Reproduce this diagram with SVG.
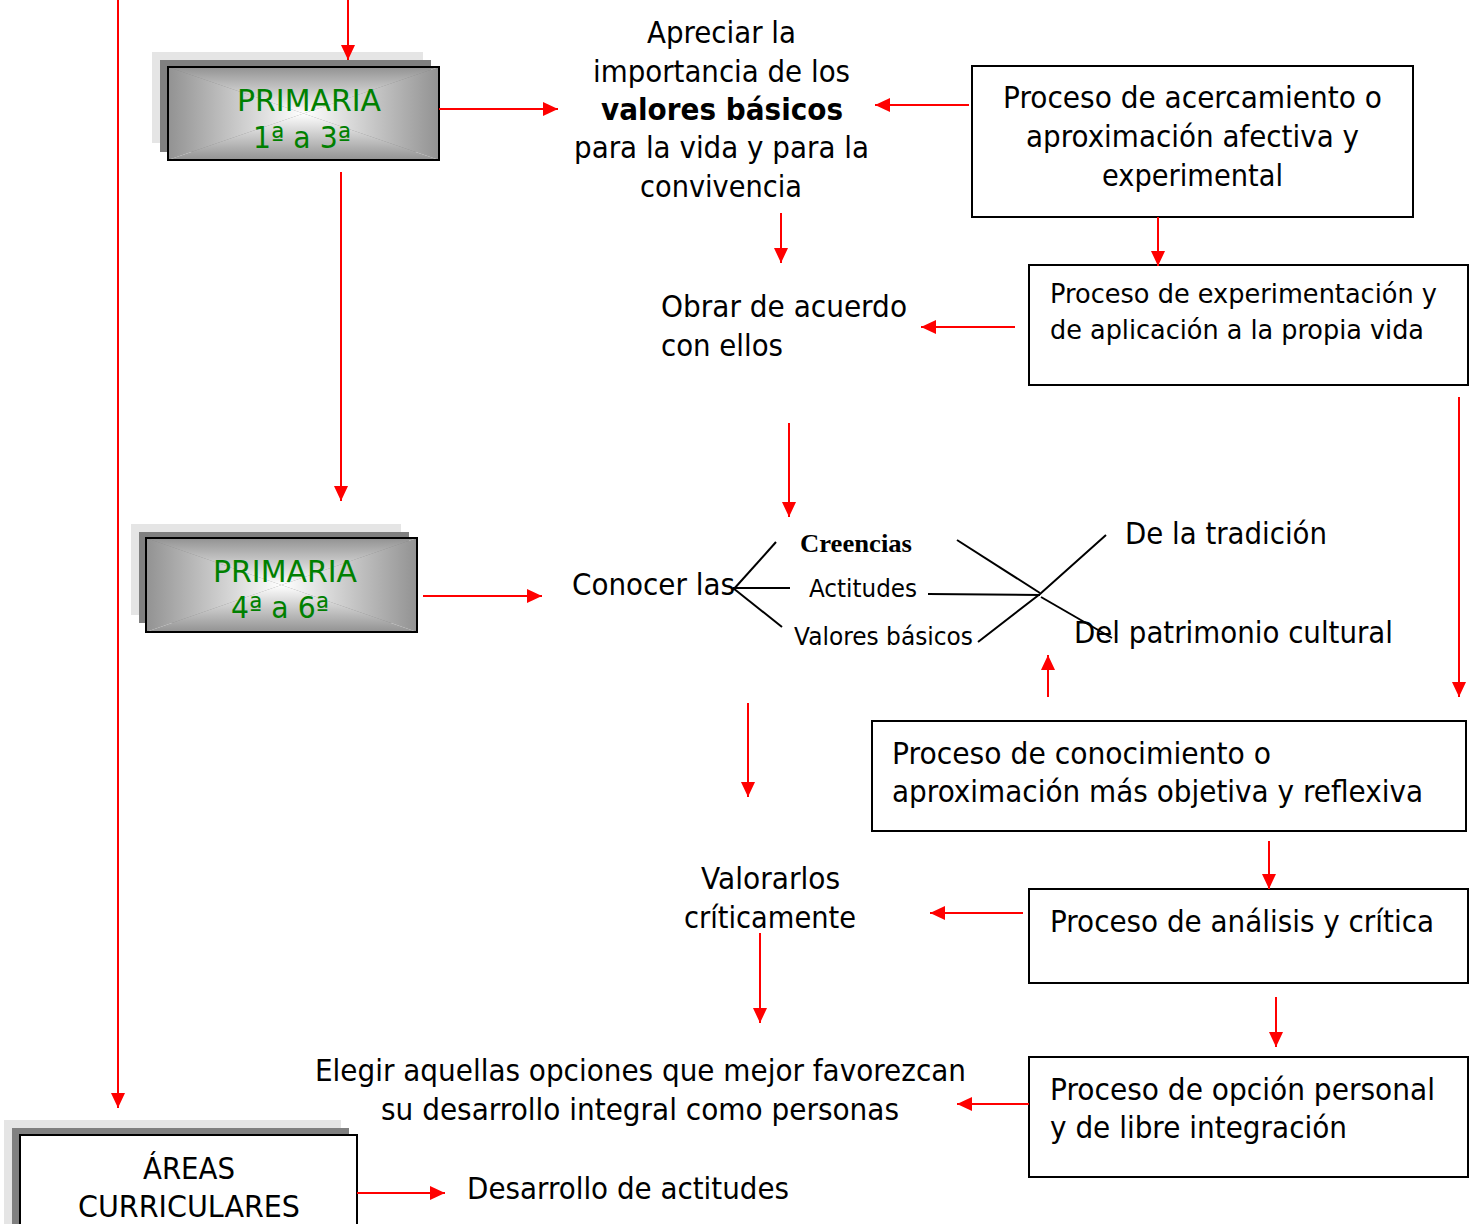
<svg xmlns="http://www.w3.org/2000/svg" width="1469" height="1224" viewBox="0 0 1469 1224">
<style>
text{font-family:"DejaVu Sans","Liberation Sans",sans-serif;font-size:30px;fill:#000}
.sm{font-size:27px}
.xs{font-size:24px}
.grn{fill:#008000}
.bold{font-weight:bold}
.serif{font-family:"Liberation Serif","DejaVu Serif",serif;font-weight:bold;font-size:25px}
.box{fill:#fff;stroke:#000;stroke-width:2}
.sh1{fill:#e5e5e5}
.sh2{fill:#808080}
.frame{fill:none;stroke:#000;stroke-width:2}
.arr{stroke:#f00;stroke-width:2;fill:none;marker-end:url(#ah)}
.br{stroke:#000;stroke-width:2;fill:none}
</style>
<defs>
<marker id="ah" markerUnits="userSpaceOnUse" markerWidth="16" markerHeight="14" refX="15" refY="7" orient="auto" viewBox="0 0 16 14">
<path d="M0,0 L15,7 L0,14 z" fill="#f00"/>
</marker>
<linearGradient id="gT" x1="0" y1="0" x2="0" y2="1"><stop offset="0" stop-color="#929292"/><stop offset="1" stop-color="#fff"/></linearGradient>
<linearGradient id="gB" x1="0" y1="0" x2="0" y2="1"><stop offset="0" stop-color="#fff"/><stop offset="1" stop-color="#929292"/></linearGradient>
<linearGradient id="gL" x1="0" y1="0" x2="1" y2="0"><stop offset="0" stop-color="#929292"/><stop offset="1" stop-color="#fff"/></linearGradient>
<linearGradient id="gR" x1="0" y1="0" x2="1" y2="0"><stop offset="0" stop-color="#fff"/><stop offset="1" stop-color="#929292"/></linearGradient>
</defs>

<g id="primaria13">
<rect class="sh1" x="152" y="52" width="271" height="91"/>
<rect class="sh2" x="160" y="60" width="271" height="92"/>
<polygon fill="url(#gT)" points="168,67 439,67 303.5,113.5"/>
<polygon fill="url(#gB)" points="168,160 439,160 303.5,113.5"/>
<polygon fill="url(#gL)" points="168,67 168,160 303.5,113.5"/>
<polygon fill="url(#gR)" points="439,67 439,160 303.5,113.5"/>
<rect class="frame" x="168" y="67" width="271" height="93"/>
<text class="grn" x="237" y="111" textLength="144" lengthAdjust="spacingAndGlyphs">PRIMARIA</text>
<text class="grn" x="253" y="148" textLength="98" lengthAdjust="spacingAndGlyphs">1ª a 3ª</text>
</g>

<g id="primaria46">
<rect class="sh1" x="131" y="524" width="270" height="91"/>
<rect class="sh2" x="139" y="532" width="270" height="91"/>
<polygon fill="url(#gT)" points="146,538 417,538 281.5,585"/>
<polygon fill="url(#gB)" points="146,632 417,632 281.5,585"/>
<polygon fill="url(#gL)" points="146,538 146,632 281.5,585"/>
<polygon fill="url(#gR)" points="417,538 417,632 281.5,585"/>
<rect class="frame" x="146" y="538" width="271" height="94"/>
<text class="grn" x="213" y="582" textLength="144" lengthAdjust="spacingAndGlyphs">PRIMARIA</text>
<text class="grn" x="231" y="618" textLength="98" lengthAdjust="spacingAndGlyphs">4ª a 6ª</text>
</g>

<g id="areas">
<rect class="sh1" x="4" y="1120" width="337" height="110"/>
<rect class="sh2" x="12" y="1128" width="337" height="110"/>
<rect class="box" x="20" y="1135" width="337" height="100"/>
<text x="143" y="1179" textLength="92" lengthAdjust="spacingAndGlyphs">ÁREAS</text>
<text x="78" y="1217" textLength="222" lengthAdjust="spacingAndGlyphs">CURRICULARES</text>
</g>

<g id="apreciar">
<text x="647" y="43" textLength="149" lengthAdjust="spacingAndGlyphs">Apreciar la</text>
<text x="593" y="82" textLength="257" lengthAdjust="spacingAndGlyphs">importancia de los</text>
<text class="bold" x="601" y="120" textLength="242" lengthAdjust="spacingAndGlyphs">valores básicos</text>
<text x="574" y="158" textLength="295" lengthAdjust="spacingAndGlyphs">para la vida y para la</text>
<text x="640" y="197" textLength="162" lengthAdjust="spacingAndGlyphs">convivencia</text>
</g>

<g id="acercamiento">
<rect class="box" x="972" y="66" width="441" height="151"/>
<text x="1003" y="108" textLength="379" lengthAdjust="spacingAndGlyphs">Proceso de acercamiento o</text>
<text x="1026" y="147" textLength="333" lengthAdjust="spacingAndGlyphs">aproximación afectiva y</text>
<text x="1102" y="186" textLength="181" lengthAdjust="spacingAndGlyphs">experimental</text>
</g>

<g id="experimentacion">
<rect class="box" x="1029" y="265" width="439" height="120"/>
<text class="sm" x="1050" y="303" textLength="387" lengthAdjust="spacingAndGlyphs">Proceso de experimentación y</text>
<text class="sm" x="1050" y="339" textLength="374" lengthAdjust="spacingAndGlyphs">de aplicación a la propia vida</text>
</g>

<g id="obrar">
<text x="661" y="317" textLength="246" lengthAdjust="spacingAndGlyphs">Obrar de acuerdo</text>
<text x="661" y="356" textLength="122" lengthAdjust="spacingAndGlyphs">con ellos</text>
</g>

<g id="conocer">
<text x="572" y="595" textLength="163" lengthAdjust="spacingAndGlyphs">Conocer las</text>
</g>
<g id="creencias"><text class="serif" x="800" y="552" textLength="112" lengthAdjust="spacingAndGlyphs">Creencias</text></g>
<g id="actitudes"><text class="xs" x="809" y="597" textLength="108" lengthAdjust="spacingAndGlyphs">Actitudes</text></g>
<g id="valores"><text class="xs" x="794" y="645" textLength="179" lengthAdjust="spacingAndGlyphs">Valores básicos</text></g>
<g id="tradicion"><text x="1125" y="544" textLength="202" lengthAdjust="spacingAndGlyphs">De la tradición</text></g>
<g id="patrimonio"><text x="1074" y="643" textLength="319" lengthAdjust="spacingAndGlyphs">Del patrimonio cultural</text></g>

<g id="conocimiento">
<rect class="box" x="872" y="721" width="594" height="110"/>
<text x="892" y="764" textLength="379" lengthAdjust="spacingAndGlyphs">Proceso de conocimiento o</text>
<text x="892" y="802" textLength="531" lengthAdjust="spacingAndGlyphs">aproximación más objetiva y reflexiva</text>
</g>

<g id="valorarlos">
<text x="701" y="889" textLength="139" lengthAdjust="spacingAndGlyphs">Valorarlos</text>
<text x="684" y="928" textLength="172" lengthAdjust="spacingAndGlyphs">críticamente</text>
</g>

<g id="analisis">
<rect class="box" x="1029" y="889" width="439" height="94"/>
<text x="1050" y="932" textLength="384" lengthAdjust="spacingAndGlyphs">Proceso de análisis y crítica</text>
</g>

<g id="elegir">
<text x="315" y="1081" textLength="651" lengthAdjust="spacingAndGlyphs">Elegir aquellas opciones que mejor favorezcan</text>
<text x="381" y="1120" textLength="518" lengthAdjust="spacingAndGlyphs">su desarrollo integral como personas</text>
</g>

<g id="opcion">
<rect class="box" x="1029" y="1057" width="439" height="120"/>
<text x="1050" y="1100" textLength="385" lengthAdjust="spacingAndGlyphs">Proceso de opción personal</text>
<text x="1050" y="1138" textLength="297" lengthAdjust="spacingAndGlyphs">y de libre integración</text>
</g>

<g id="desarrollo">
<text x="467" y="1199" textLength="322" lengthAdjust="spacingAndGlyphs">Desarrollo de actitudes</text>
</g>

<g id="connectors">
<line class="arr" x1="118" y1="0" x2="118" y2="1108"/>
<line class="arr" x1="348" y1="0" x2="348" y2="60"/>
<line class="arr" x1="439" y1="109" x2="558" y2="109"/>
<line class="arr" x1="341" y1="172" x2="341" y2="501"/>
<line class="arr" x1="423" y1="596" x2="542" y2="596"/>
<line class="arr" x1="357" y1="1193" x2="445" y2="1193"/>
<line class="arr" x1="969" y1="105" x2="875" y2="105"/>
<line class="arr" x1="781" y1="213" x2="781" y2="263"/>
<line class="arr" x1="1158" y1="217" x2="1158" y2="266"/>
<line class="arr" x1="1015" y1="327" x2="921" y2="327"/>
<line class="arr" x1="789" y1="423" x2="789" y2="517"/>
<line class="arr" x1="1459" y1="397" x2="1459" y2="697"/>
<line class="arr" x1="1048" y1="697" x2="1048" y2="655"/>
<line class="arr" x1="748" y1="703" x2="748" y2="797"/>
<line class="arr" x1="1269" y1="841" x2="1269" y2="889"/>
<line class="arr" x1="1023" y1="913" x2="930" y2="913"/>
<line class="arr" x1="760" y1="933" x2="760" y2="1023"/>
<line class="arr" x1="1276" y1="997" x2="1276" y2="1047"/>
<line class="arr" x1="1029" y1="1104" x2="957" y2="1104"/>
<line class="br" x1="733" y1="590" x2="776" y2="542"/>
<line class="br" x1="733" y1="588" x2="790" y2="588"/>
<line class="br" x1="733" y1="588" x2="782" y2="627"/>
<line class="br" x1="957" y1="540" x2="1040" y2="593"/>
<line class="br" x1="928" y1="594" x2="1040" y2="595"/>
<polyline class="br" points="978,642 1040,594 1106,535"/>
<line class="br" x1="1041" y1="597" x2="1112" y2="638"/>
</g>
</svg>
